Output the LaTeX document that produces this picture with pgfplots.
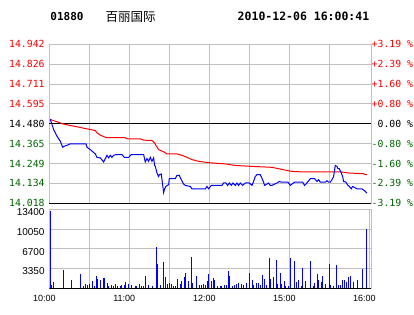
\documentclass[border=0pt]{standalone}
\usepackage{pgfplots}
\pgfplotsset{compat=1.18}
\usepackage{pgfplotstable}
\usepackage{fontspec}
\setmainfont{Liberation Sans}
\newfontfamily\monof{DejaVu Sans Mono}
\newfontfamily\cjk{Noto Sans CJK SC}
\definecolor{gridgray}{RGB}{192,192,192}
\definecolor{dgreen}{RGB}{0,100,0}
\definecolor{pblue}{RGB}{0,0,255}
\definecolor{pred}{RGB}{255,0,0}

\pgfplotstableread{
m p
0.75 14.506
2.0 14.476
3.25 14.447
5.75 14.408
8.25 14.379
10 14.344
11.25 14.350
13.25 14.355
15.75 14.364
27.5 14.364
28.25 14.344
30.75 14.330
34.5 14.305
35.75 14.285
38.25 14.282
40.75 14.258
42 14.278
43.25 14.297
44.5 14.282
45.75 14.297
47 14.285
48.25 14.297
50 14.301
54.5 14.301
56.25 14.285
59.5 14.285
61.5 14.301
70.75 14.301
72 14.258
73.25 14.278
74.5 14.262
75.75 14.285
77 14.262
78.25 14.282
79 14.238
79.5 14.233
80.75 14.194
82 14.174
82.5 14.184
84 14.188
85 14.126
85.75 14.080
86.5 14.102
87.5 14.116
88.5 14.122
89.5 14.126
90 14.161
94.5 14.161
95.75 14.180
97.5 14.180
99 14.155
100.75 14.130
102 14.122
105.75 14.116
107 14.102
117 14.102
118.25 14.116
119.5 14.102
121.5 14.122
129.5 14.122
130.75 14.136
132.5 14.136
133.75 14.122
135 14.136
136.5 14.122
137.75 14.136
139.5 14.122
140.75 14.136
142 14.122
143.25 14.136
145 14.122
147 14.136
150 14.136
152 14.122
153.25 14.145
154.5 14.174
155.75 14.184
158.25 14.184
160 14.155
161.5 14.122
163.25 14.130
164.5 14.136
165.75 14.122
167 14.122
169 14.130
170.75 14.136
172.5 14.145
174 14.141
179 14.141
180.75 14.122
182 14.130
184 14.141
190 14.141
191.5 14.122
193.25 14.136
195.75 14.161
199 14.161
200.75 14.145
202 14.155
203.25 14.141
207 14.141
208.25 14.149
209.5 14.141
210.75 14.141
212 14.155
213.25 14.174
214.5 14.238
215.75 14.233
216.5 14.219
217.5 14.219
219 14.194
220 14.174
220.75 14.145
222.5 14.141
224 14.122
225 14.116
226.5 14.102
227.5 14.116
229 14.110
230.75 14.102
234.5 14.102
236.5 14.091
238.25 14.077
}\pricetab

\pgfplotstableread{
m a
0.75 14.506
2.5 14.500
5.75 14.492
9.5 14.481
14.5 14.472
22 14.461
26.5 14.453
30.75 14.447
34.5 14.441
35.75 14.428
38.25 14.414
42 14.402
43.25 14.399
57 14.399
58.25 14.393
68.25 14.393
70.75 14.385
77 14.383
79 14.369
79.5 14.360
82 14.330
85.75 14.317
88.25 14.305
95.75 14.305
99.5 14.297
103.25 14.285
107 14.272
112 14.262
120.75 14.253
132 14.247
139.5 14.238
150.75 14.233
162 14.229
167 14.227
175.75 14.213
182 14.203
192 14.200
219.5 14.200
224.5 14.194
235.75 14.190
237 14.184
238.25 14.184
}\avgtab

\pgfplotstableread{
m v
0.75 13100
1.5 570
3.25 1020
10.75 3120
16.75 1420
23.5 2440
25.75 400
27.25 680
28.75 570
30.25 800
32.5 1250
34 450
35.5 2100
36.25 1590
38.5 1420
40.75 1820
41.5 1700
43.75 910
44.5 450
46.75 510
48.25 400
49.75 740
51.25 450
53.5 400
54.25 570
56.5 570
57.25 1080
59.5 740
61.75 570
64.75 400
65.5 400
67.75 740
69.25 450
70.75 450
72.25 2100
74.75 570
77.5 450
80.5 7040
81.25 4150
83.5 570
85.75 4490
87.25 1930
88.75 680
90.25 910
91.75 740
93.25 400
94.75 400
96.25 1590
98.5 680
99.25 1250
101.5 1930
102.25 2610
104.5 1250
106.75 5340
107.5 970
110.5 2100
112.75 570
114.25 570
115.75 740
117.25 570
118.75 1250
119.5 2440
121.75 1250
123.25 1760
124 1420
126.25 400
128.5 400
129.25 400
131.5 570
133 570
134.5 2950
135.25 2100
137.5 400
139 570
140.5 740
142 910
144.25 680
145.75 570
148 910
150.25 2610
152.5 1420
153.25 570
155.5 910
157 910
158.5 570
160 2270
161.5 1590
163 570
165.25 5170
166 1590
168.25 1930
170.5 4830
171.25 740
173.5 2610
174.25 740
176.5 1250
177.25 400
179.5 400
181 5170
184 4660
185.5 1080
187 1420
189.25 400
190 3460
192.25 1250
196 4660
198.25 400
199 910
201.25 2440
202 1420
204.25 1080
205 2100
207.25 740
210.25 4150
211 570
213.25 400
215.5 3980
217 570
218.5 570
220 1420
221.5 1420
223 1080
224.5 1930
226 2100
228.25 1080
231.25 1420
235 3350
238 10110
}\voltab

\begin{document}
\begin{tikzpicture}
\path[use as bounding box] (0pt,0pt) rectangle (414pt,314pt);
\node[font=\monof\bfseries\fontsize{11}{12}\selectfont] at (67pt,297.3pt) {01880};
\node[font=\cjk\fontsize{12.5}{13}\selectfont] at (130.7pt,297.3pt) {百丽国际};
\node[font=\monof\bfseries\fontsize{11.5}{12}\selectfont] at (303.5pt,297.3pt) {2010-12-06 16:00:41};

% price panel
\begin{axis}[
  at={(49.3pt,110.7pt)}, anchor=south west, scale only axis,
  width=321.7pt, height=159pt,
  xmin=0, xmax=241.3, ymin=14.018, ymax=14.942,
  axis line style={gridgray, line width=0.9pt},
  xtick={30,60,90,120,150,180,210}, xticklabels={},
  ytick={14.018,14.1335,14.249,14.3645,14.480,14.5955,14.711,14.8265,14.942},
  yticklabels={\textcolor{dgreen}{14.018},\textcolor{dgreen}{14.134},\textcolor{dgreen}{14.249},\textcolor{dgreen}{14.365},\textcolor{black}{14.480},\textcolor{pred}{14.595},\textcolor{pred}{14.711},\textcolor{pred}{14.826},\textcolor{pred}{14.942}},
  yticklabel style={font=\monof\fontsize{9.8}{10}\selectfont, xshift=-1.2pt},
  xmajorgrids, ymajorgrids,
  major grid style={gridgray, line width=0.9pt},
  major tick length=0pt,
  clip=false,
]
\addplot[black, line width=0.9pt] coordinates {(0,14.480) (241.3,14.480)};
\addplot[black, line width=0.9pt] coordinates {(0,14.018) (241.3,14.018)};
\addplot[pred, line width=1pt] table[x=m,y=a] {\avgtab};
\addplot[pblue, line width=1pt] table[x=m,y=p] {\pricetab};
\end{axis}

% right percentage axis
\begin{axis}[
  at={(49.3pt,110.7pt)}, anchor=south west, scale only axis,
  width=321.7pt, height=159pt,
  xmin=0, xmax=241.3, ymin=14.018, ymax=14.942,
  hide x axis, axis y line*=right,
  axis line style={gridgray, line width=0.9pt},
  ytick={14.018,14.1335,14.249,14.3645,14.480,14.5955,14.711,14.8265,14.942},
  yticklabels={\textcolor{dgreen}{-3.19 \%},\textcolor{dgreen}{-2.39 \%},\textcolor{dgreen}{-1.60 \%},\textcolor{dgreen}{-0.80 \%},\textcolor{black}{\phantom{-}0.00 \%},\textcolor{pred}{+0.80 \%},\textcolor{pred}{+1.60 \%},\textcolor{pred}{+2.39 \%},\textcolor{pred}{+3.19 \%}},
  yticklabel style={font=\monof\fontsize{9.8}{10}\selectfont, xshift=-2.8pt},
  major tick length=0pt,
]
\addplot[draw=none] coordinates {(0,14.48)};
\end{axis}

% volume panel
\begin{axis}[
  at={(49.3pt,25.7pt)}, anchor=south west, scale only axis,
  width=321.7pt, height=79pt,
  xmin=0, xmax=241.3, ymin=0, ymax=13400,
  axis line style={gridgray, line width=0.9pt},
  xtick={0,30,60,90,120,150,180,210,240},
  xticklabels={10:00,,11:00,,12:00,,15:00,,16:00},
  xticklabel style={font=\fontsize{9}{10}\selectfont, xshift=-5pt, yshift=-3pt},
  ytick={3350,6700,10050,13400},
  yticklabels={3350,6700,10050,13400},
  yticklabel style={font=\fontsize{10}{11}\selectfont, xshift=-1.2pt, yshift=-3pt},
  xmajorgrids, ymajorgrids,
  major grid style={gridgray, line width=0.9pt},
  major tick length=0pt,
  scaled y ticks=false,
]
\addplot[black, line width=0.9pt] coordinates {(0,0) (241.3,0)};
\addplot[ycomb, pblue, line width=1pt] table[x=m,y=v] {\voltab};
\end{axis}
\end{tikzpicture}
\end{document}
